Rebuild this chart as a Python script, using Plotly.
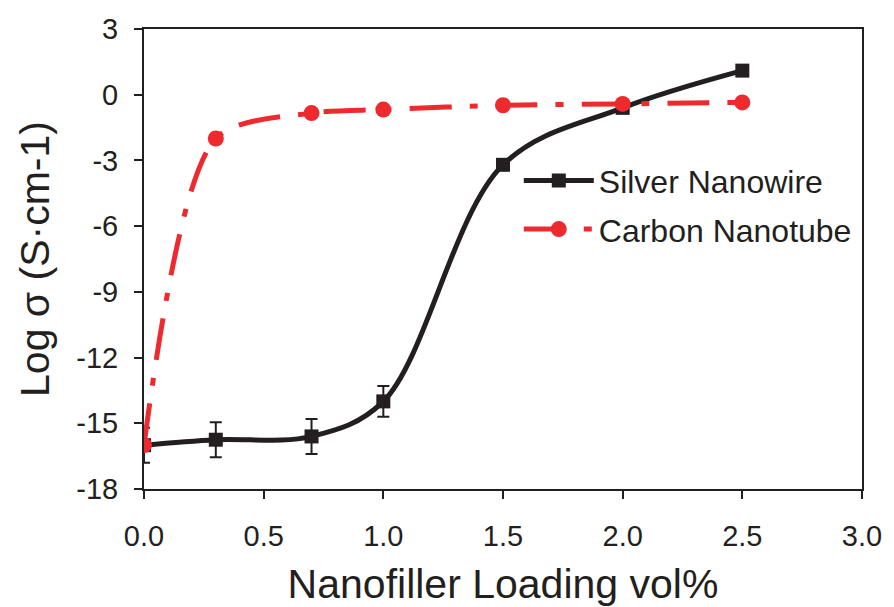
import plotly.graph_objects as go

# Data
loading = [0.0, 0.3, 0.7, 1.0, 1.5, 2.0, 2.5]
silver_nanowire = [-16.0, -15.75, -15.6, -14.0, -3.2, -0.6, 1.1]
silver_err = [0.8, 0.8, 0.8, 0.7, 0.0, 0.0, 0.0]
carbon_nanotube = [-16.0, -2.0, -0.84, -0.68, -0.48, -0.42, -0.35]

x_ticks = [0.0, 0.5, 1.0, 1.5, 2.0, 2.5, 3.0]
x_tick_labels = ["0.0", "0.5", "1.0", "1.5", "2.0", "2.5", "3.0"]
y_ticks = [3, 0, -3, -6, -9, -12, -15, -18]
y_tick_labels = ["3", "0", "-3", "-6", "-9", "-12", "-15", "-18"]

BLACK = "#231F20"
RED = "#EE2A2F"
FONT = "Liberation Sans, Arial, sans-serif"

fig = go.Figure()

fig.add_trace(go.Scatter(
    x=loading, y=silver_nanowire, name="Silver Nanowire",
    mode="lines+markers", legendgroup="a",
    line=dict(color=BLACK, width=5, shape="spline", smoothing=1.0),
    marker=dict(symbol="square", size=14, color=BLACK),
    error_y=dict(type="data", array=silver_err, visible=True,
                 color=BLACK, thickness=2, width=6),
))

fig.add_trace(go.Scatter(
    x=loading, y=carbon_nanotube, name="Carbon Nanotube",
    mode="lines+markers", legendgroup="b",
    line=dict(color=RED, width=5, shape="spline", smoothing=0.8,
              dash="42px,18px,8px,18px"),
    marker=dict(symbol="circle", size=16, color=RED),
))

axis_common = dict(
    showline=True, linecolor=BLACK, linewidth=2, mirror=True,
    ticks="outside", ticklen=8, tickwidth=2, tickcolor=BLACK,
    showgrid=False, zeroline=False, automargin=False,
    tickfont=dict(family=FONT, size=29, color=BLACK),
)

fig.update_xaxes(
    range=[0, 3.0], tickvals=x_ticks, ticktext=x_tick_labels,
    ticklabelstandoff=12,
    title=dict(text="Nanofiller Loading vol%", font=dict(family=FONT, size=41, color=BLACK), standoff=22),
    **axis_common,
)
fig.update_yaxes(
    range=[-18, 3], tickvals=y_ticks, ticktext=y_tick_labels,
    ticklabelstandoff=10,
    title=dict(text="Log σ (S·cm-1)", font=dict(family=FONT, size=41, color=BLACK), standoff=14),
    **axis_common,
)

fig.update_layout(
    width=886, height=599,
    margin=dict(l=136, r=32, t=21, b=118),
    paper_bgcolor="white", plot_bgcolor="white",
    font=dict(family=FONT, color=BLACK),
    showlegend=True,
    legend=dict(
        x=0.522, y=0.73, xanchor="left", yanchor="top",
        bgcolor="rgba(0,0,0,0)", borderwidth=0,
        font=dict(family=FONT, size=32, color=BLACK),
        itemwidth=70, tracegroupgap=4,
    ),
)

fig.write_html("out.html")
